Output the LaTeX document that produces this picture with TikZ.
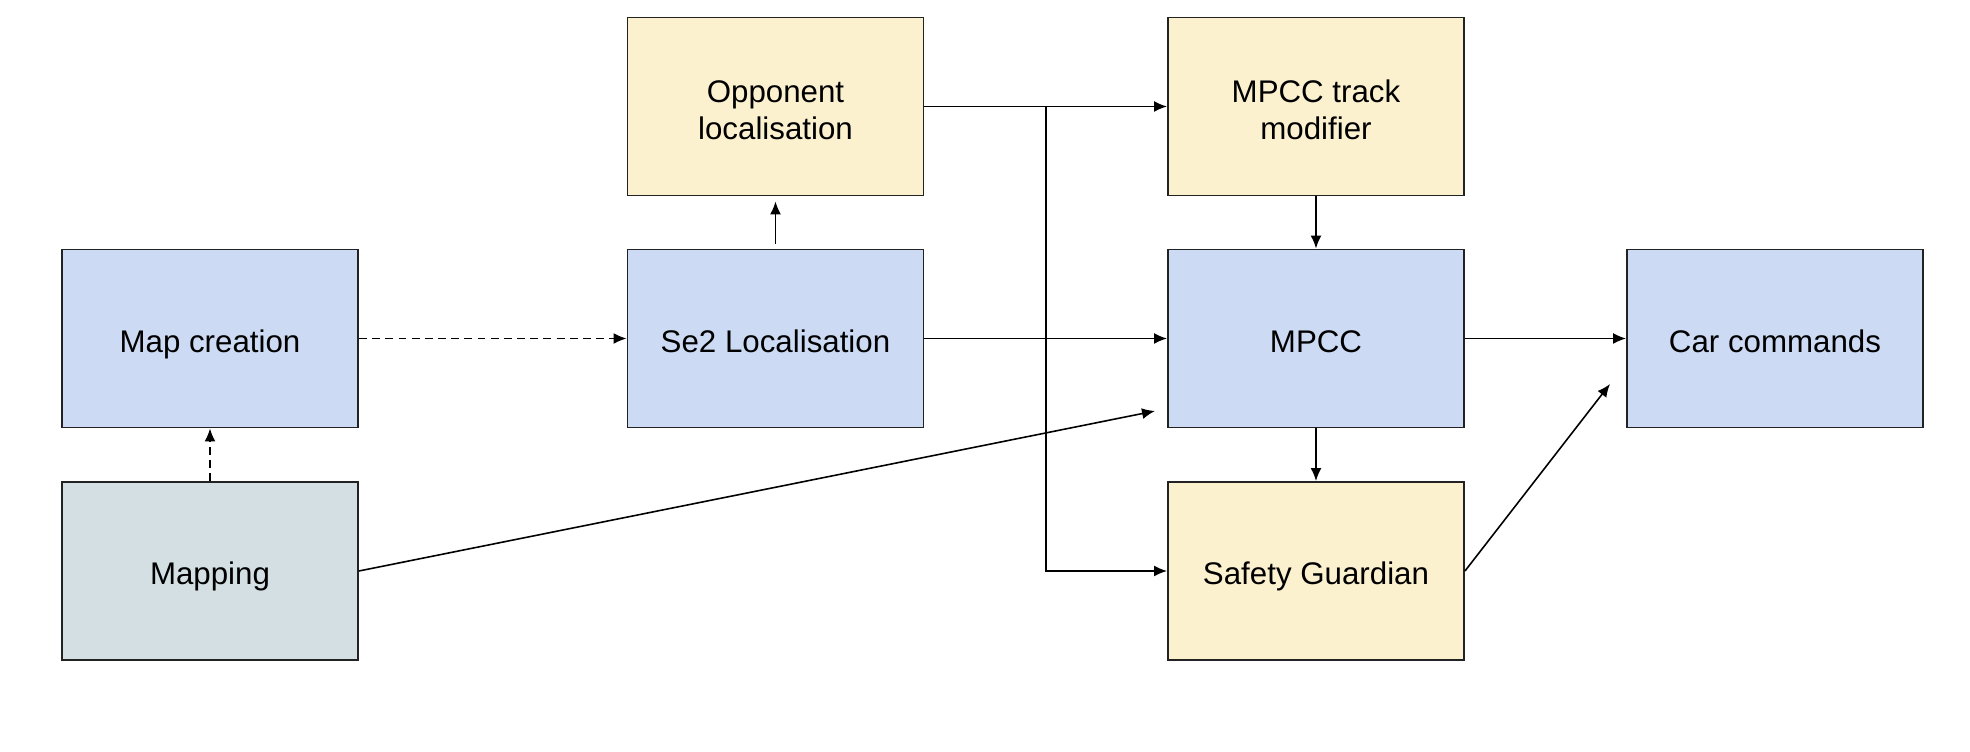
\documentclass[tikz,border=0pt]{standalone}
\usepackage{fontspec}
\setmainfont{Liberation Sans}
\usetikzlibrary{arrows.meta}

\definecolor{boxblue}{HTML}{CCDAF4}
\definecolor{boxyellow}{HTML}{FCF1CF}
\definecolor{boxgrey}{HTML}{D3DFE3}
\definecolor{edgedark}{HTML}{222222}

\begin{document}
\begin{tikzpicture}[>={Latex[length=2.6mm,width=2.2mm]},
    blk/.style={rectangle, draw=edgedark, line width=1.1pt, minimum width=5.92cm, minimum height=3.56cm,
        align=center, font=\fontsize{17.8}{21}\selectfont, text height=19.2pt, text depth=3.6pt},
    twoline/.style={text height=41pt},
    bluebox/.style={blk, fill=boxblue},
    yellowbox/.style={blk, fill=boxyellow},
    greybox/.style={blk, fill=boxgrey},
    every path/.style={line width=0.9pt}]

    \useasboundingbox (0,0) rectangle (39.4,15.04);

    % Define the left column (map side)
    \node[bluebox] (mapcreation) at (4.2, 8.27) {Map creation};
    \node[greybox] (mapping) at (4.2, 3.62) {Mapping};

    % Define the localisation column
    \node[yellowbox, twoline] (opponent) at (15.51, 12.91) {Opponent\\localisation};
    \node[bluebox] (se2) at (15.51, 8.27) {Se2 Localisation};

    % Define the controller column
    \node[yellowbox, twoline] (trackmod) at (26.32, 12.91) {MPCC track\\modifier};
    \node[bluebox] (mpcc) at (26.32, 8.27) {MPCC};
    \node[yellowbox] (guardian) at (26.32, 3.62) {Safety Guardian};

    % Define the output
    \node[bluebox] (commands) at (35.5, 8.27) {Car commands};

    % Free ends of the slanted connectors
    \coordinate (branch) at (20.92, 12.91);
    \coordinate (mpccin) at (23.1, 6.82);
    \coordinate (commandsin) at (32.2, 7.36);

    % Draw the dashed map connections
    \draw[->, dash pattern=on 4.5pt off 3pt] (mapping) -- (mapcreation);
    \draw[->, dash pattern=on 4.5pt off 3pt] (mapcreation) -- (se2);

    % Draw the localisation connections
    \draw[->, shorten <=0.1cm, shorten >=0.1cm] (se2) -- (opponent);
    \draw[->] (se2) -- (mpcc);
    \draw[->] (opponent) -- (trackmod);
    \draw[->] (branch) |- (guardian.west);

    % Draw the controller connections
    \draw[->] (trackmod) -- (mpcc);
    \draw[->] (mpcc) -- (guardian);
    \draw[->] (mpcc) -- (commands);
    \draw[->] (mapping.east) -- (mpccin);
    \draw[->] (guardian.east) -- (commandsin);

\end{tikzpicture}
\end{document}
